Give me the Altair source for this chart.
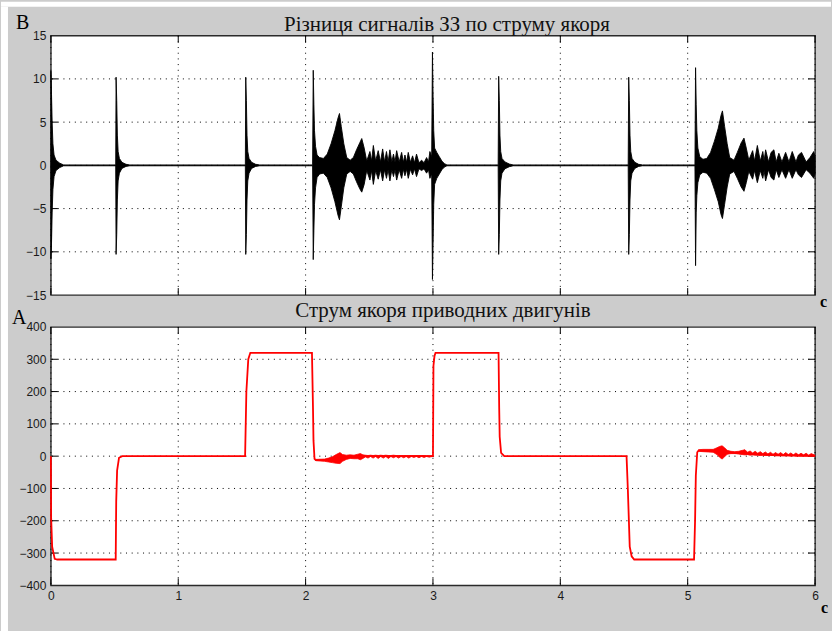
import altair as alt
import pandas as pd

# ---------------------------------------------------------------------------
# Axis ticks
# ---------------------------------------------------------------------------
t_ticks = [0, 1, 2, 3, 4, 5, 6]
diff_ticks = [-15, -10, -5, 0, 5, 10, 15]
cur_ticks = [-400, -300, -200, -100, 0, 100, 200, 300, 400]

# ---------------------------------------------------------------------------
# Difference of the fault-protection signals (V): envelope of the oscillation
# (time in s, upper bound, lower bound)
# ---------------------------------------------------------------------------
diff_t = [
    0.000, 0.005, 0.010, 0.016, 0.025, 0.040, 0.070, 0.100,
    0.509, 0.512, 0.517, 0.522, 0.528, 0.538, 0.558, 0.590, 0.620,
    1.527, 1.530, 1.535, 1.540, 1.546, 1.556, 1.576, 1.608, 1.640,
    2.055, 2.060, 2.065, 2.070, 2.078, 2.090, 2.110, 2.140, 2.170, 2.200,
    2.230, 2.255, 2.266, 2.280, 2.300, 2.323, 2.350, 2.375, 2.400, 2.425,
    2.441, 2.460, 2.480, 2.505, 2.518, 2.532, 2.550, 2.570, 2.588, 2.605,
    2.620, 2.635, 2.648, 2.662, 2.677, 2.690, 2.702, 2.715, 2.735, 2.754,
    2.768, 2.780, 2.793, 2.806, 2.823, 2.840, 2.855, 2.871, 2.890, 2.911,
    2.930, 2.950, 2.965, 2.976, 2.990,
    2.996, 3.001, 3.006, 3.013, 3.030, 3.050, 3.070, 3.090, 3.110,
    3.512, 3.516, 3.521, 3.526, 3.532, 3.542, 3.565, 3.600, 3.630,
    4.533, 4.537, 4.542, 4.547, 4.553, 4.563, 4.585, 4.615, 4.645,
    5.057, 5.062, 5.067, 5.072, 5.080, 5.095, 5.120, 5.150, 5.180, 5.210,
    5.240, 5.262, 5.273, 5.290, 5.310, 5.330, 5.364, 5.390, 5.420, 5.442,
    5.460, 5.480, 5.510, 5.525, 5.547, 5.570, 5.590, 5.600, 5.612, 5.635,
    5.655, 5.677, 5.695, 5.716, 5.740, 5.769, 5.795, 5.821, 5.850, 5.870,
    5.894, 5.930, 5.960, 5.990, 6.000,
]
diff_hi = [
    10.9, 8.2, 5.0, 2.5, 1.2, 0.6, 0.25, 0.05,
    0.05, 10.2, 7.5, 3.5, 1.6, 0.8, 0.35, 0.12, 0.05,
    0.05, 10.2, 7.5, 3.5, 1.6, 0.8, 0.35, 0.12, 0.05,
    0.05, 11.0, 7.0, 4.0, 2.2, 1.2, 0.9, 0.8, 1.3, 2.5,
    4.0, 5.5, 6.0, 4.5, 2.5, 0.9, 0.6, 0.9, 1.8, 2.6,
    3.1, 2.0, 0.5, 1.6, 0.5, 2.3, 0.5, 1.7, 0.4, 1.9,
    0.4, 1.6, 0.4, 1.8, 0.4, 1.3, 0.4, 1.7, 0.4, 1.5,
    0.35, 1.2, 0.35, 1.5, 0.35, 1.1, 0.3, 1.3, 0.3, 0.6,
    0.3, 0.9, 0.4, 1.6, 1.0,
    13.1, 8.0, 4.0, 2.0, 1.5, 1.0, 0.5, 0.2, 0.05,
    0.05, 10.3, 7.5, 3.5, 1.6, 0.8, 0.4, 0.15, 0.05,
    0.05, 10.2, 7.5, 3.5, 1.6, 0.8, 0.35, 0.12, 0.05,
    0.05, 11.3, 7.0, 4.0, 2.0, 1.0, 0.7, 0.8, 1.5, 2.8,
    4.3, 5.8, 6.3, 4.5, 2.5, 0.9, 0.6, 1.5, 2.6, 3.15,
    2.0, 0.6, 1.7, 0.5, 2.3, 0.5, 1.6, 0.5, 1.8, 0.4,
    1.5, 1.8, 0.4, 1.4, 0.4, 1.5, 0.4, 1.6, 0.4, 1.2,
    1.5, 0.4, 0.9, 1.6, 1.0,
]
diff_lo = [
    -10.8, -9.0, -5.5, -2.8, -1.3, -0.6, -0.25, -0.05,
    -0.05, -10.3, -8.0, -4.0, -1.8, -0.9, -0.35, -0.12, -0.05,
    -0.05, -10.3, -8.0, -4.0, -1.8, -0.9, -0.35, -0.12, -0.05,
    -0.05, -10.9, -7.5, -4.5, -2.6, -1.4, -1.0, -0.9, -1.4, -2.6,
    -4.2, -5.8, -6.3, -4.8, -2.6, -1.0, -0.7, -1.0, -1.9, -2.7,
    -3.1, -2.2, -0.6, -1.7, -0.6, -2.2, -0.6, -1.6, -0.5, -1.8,
    -0.5, -1.5, -0.5, -1.8, -0.5, -1.3, -0.5, -1.7, -0.5, -1.5,
    -0.45, -1.2, -0.45, -1.5, -0.45, -1.1, -0.4, -1.3, -0.4, -0.6,
    -0.4, -0.9, -0.5, -1.5, -1.0,
    -13.2, -9.0, -4.5, -2.2, -1.5, -1.0, -0.5, -0.2, -0.05,
    -0.05, -10.3, -8.0, -4.0, -1.8, -0.9, -0.4, -0.15, -0.05,
    -0.05, -10.3, -8.0, -4.0, -1.8, -0.9, -0.35, -0.12, -0.05,
    -0.05, -11.6, -5.5, -3.5, -2.0, -1.1, -0.8, -0.9, -1.5, -2.8,
    -4.2, -5.7, -6.15, -4.5, -2.5, -1.0, -0.7, -1.5, -2.5, -3.0,
    -2.0, -0.7, -1.6, -0.6, -2.0, -0.6, -1.5, -0.6, -1.8, -0.5,
    -1.4, -1.7, -0.5, -1.4, -0.5, -1.5, -0.5, -1.5, -0.5, -1.1,
    -1.4, -0.5, -0.9, -1.5, -1.0,
]

# ---------------------------------------------------------------------------
# Armature current of the drive motors (A)
# ---------------------------------------------------------------------------
cur_t = [
    0.000, 0.002, 0.010, 0.030, 0.050,
    0.509, 0.513, 0.520, 0.535, 0.560,
    1.525, 1.535, 1.550, 1.566,
    2.050, 2.058, 2.062, 2.070, 2.080, 2.150, 2.270, 2.350, 2.500, 2.995,
    3.000, 3.004, 3.012, 3.020,
    3.515, 3.520, 3.524, 3.535, 3.560,
    4.520, 4.530, 4.545, 4.560, 4.580,
    5.050, 5.058, 5.064, 5.075, 5.085, 5.200, 5.270, 5.350, 5.500, 5.700, 6.000,
]
cur_a = [
    0, -190, -280, -318, -320,
    -320, -140, -45, -5, 0,
    0, 200, 300, 320,
    320, 150, 48, -8, -12, -12, -6, -2, 0, 0,
    0, 280, 310, 320,
    320, 150, 60, 10, 0,
    0, -100, -280, -310, -320,
    -320, -200, -60, 12, 17, 18, 12, 10, 6, 3, 1,
]

# ripple band after the braking step (2.08 s ... 3.0 s)
band1_t = [2.080, 2.150, 2.180, 2.210, 2.240, 2.270, 2.290, 2.320, 2.350, 2.380,
           2.410, 2.430, 2.450, 2.470, 2.490, 2.510, 2.530, 2.550, 2.570, 2.590,
           2.610, 2.630, 2.650, 2.670, 2.690, 2.710, 2.730, 2.750, 2.770, 2.790,
           2.810, 2.830, 2.850, 2.870, 2.890, 2.910, 2.930, 2.950, 2.970, 2.995]
band1_hi = [-10, -9, -6, -2, 5, 11, 5, 3, 4, 3,
            6, 8, 4, 3, 2, 3, 2, 3, 2, 3,
            2, 3, 2, 2, 3, 2, 2, 2, 2, 2,
            2, 2, 2, 2, 2, 2, 2, 1, 1, 1]
band1_lo = [-14, -16, -18, -20, -22, -23, -16, -10, -7, -8,
            -8, -11, -7, -2, -6, -1, -6, -1, -7, -1,
            -6, -1, -7, -1, -5, -1, -6, -1, -5, -1,
            -6, -1, -4, -1, -5, -1, -4, -1, -3, -1]

# ripple band after the reverse braking step (5.085 s ... 6.0 s)
band2_t = [5.085, 5.120, 5.160, 5.200, 5.230, 5.250, 5.270, 5.290, 5.310, 5.340,
           5.370, 5.400, 5.430, 5.450, 5.470, 5.490, 5.510, 5.530, 5.550, 5.570,
           5.590, 5.610, 5.630, 5.650, 5.670, 5.690, 5.710, 5.730, 5.750, 5.770,
           5.790, 5.810, 5.830, 5.850, 5.870, 5.890, 5.910, 5.930, 5.950, 5.970, 6.000]
band2_hi = [20, 21, 21, 21, 26, 30, 32, 26, 18, 15,
            14, 15, 18, 20, 12, 16, 10, 15, 9, 14,
            8, 13, 7, 12, 6, 11, 6, 11, 5, 11,
            5, 10, 4, 10, 4, 9, 4, 9, 3, 8, 3]
band2_lo = [15, 14, 13, 12, 5, -3, -9, -2, 6, 8,
            8, 7, 5, 4, 5, 3, 4, 3, 3, 2,
            3, 2, 2, 2, 2, 1, 1, 1, 1, 1,
            1, 0, 1, 0, 0, 0, 0, 0, 0, 0, 0]

# ---------------------------------------------------------------------------
# Panel geometry and styling
# ---------------------------------------------------------------------------
W = 766
H1 = 260
H2 = 259
TICK = 7
GRID_DASH = [1, 4.7]
LABEL_FONT = "Liberation Sans"
SERIF = "Liberation Serif"
FRAME_GREY = "#cccccc"

x_scale = alt.Scale(domain=[0, 6], nice=False, zero=False)
y1_scale = alt.Scale(domain=[-15, 15], nice=False, zero=False)
y2_scale = alt.Scale(domain=[-400, 400], nice=False, zero=False)

y_axis_common = dict(grid=False, ticks=False, domain=False, labelPadding=5,
                     labelFont=LABEL_FONT, labelFontSize=12, labelColor="#1a1a1a",
                     title=None)
y1_axis = alt.Axis(values=diff_ticks, **y_axis_common)
y2_axis = alt.Axis(values=cur_ticks, **y_axis_common)
x2_axis = alt.Axis(values=t_ticks, grid=False, ticks=False, domain=False,
                   labelPadding=5, labelFlush=False, labelFont=LABEL_FONT,
                   labelFontSize=12, labelColor="#1a1a1a", title=None,
                   labelAngle=0)

one = pd.DataFrame({"k": [0]})


def panel_frame(y_ticks, y_scale, y_axis, x_axis, height):
    """Dotted grid and inward tick marks of a MATLAB-style axes box."""
    yv = pd.DataFrame({"v": y_ticks})
    xv = pd.DataFrame({"v": t_ticks})
    X = alt.X("v:Q", scale=x_scale, axis=x_axis)
    Y = alt.Y("v:Q", scale=y_scale, axis=y_axis)
    hgrid = alt.Chart(yv).mark_rule(color="black", strokeWidth=1,
                                    strokeDash=GRID_DASH).encode(y=Y)
    vgrid = alt.Chart(xv).mark_rule(color="black", strokeWidth=1,
                                    strokeDash=GRID_DASH).encode(x=X)
    tl = alt.Chart(yv).mark_rule(color="black", strokeWidth=1).encode(
        y=Y, x=alt.value(0), x2=alt.value(TICK))
    tr = alt.Chart(yv).mark_rule(color="black", strokeWidth=1).encode(
        y=Y, x=alt.value(W - TICK), x2=alt.value(W))
    tt = alt.Chart(xv).mark_rule(color="black", strokeWidth=1).encode(
        x=X, y=alt.value(0), y2=alt.value(TICK))
    tb = alt.Chart(xv).mark_rule(color="black", strokeWidth=1).encode(
        x=X, y=alt.value(height - TICK), y2=alt.value(height))
    return [hgrid, vgrid, tl, tr, tt, tb]


def label(text, x, y, size, weight="normal"):
    return alt.Chart(pd.DataFrame({"s": [text]})).mark_text(
        font=SERIF, fontSize=size, fontWeight=weight, color="black",
        align="left", baseline="alphabetic"
    ).encode(text="s:N", x=alt.value(x), y=alt.value(y))


def title(text, cx, y):
    return alt.Chart(pd.DataFrame({"s": [text]})).mark_text(
        font=SERIF, fontSize=21, color="#111111",
        align="center", baseline="alphabetic"
    ).encode(text="s:N", x=alt.value(cx), y=alt.value(y))


# white page margin around the grey figure (top and left edges)
margin_top = alt.Chart(one).mark_rect(color="white").encode(
    x=alt.value(-50), x2=alt.value(782), y=alt.value(-34), y2=alt.value(-29))
margin_left = alt.Chart(one).mark_rect(color="white").encode(
    x=alt.value(-50), x2=alt.value(-43), y=alt.value(-29), y2=alt.value(597))

# ---------------------------------------------------------------------------
# Upper panel: signal difference
# ---------------------------------------------------------------------------
diff_df = pd.DataFrame({"t": diff_t, "hi": diff_hi, "lo": diff_lo})
diff_area = alt.Chart(diff_df).mark_area(
    color="black", stroke="black", strokeWidth=0.9, interpolate="linear"
).encode(
    x=alt.X("t:Q", scale=x_scale, axis=None),
    y=alt.Y("hi:Q", scale=y1_scale, axis=y1_axis),
    y2=alt.Y2("lo:Q"),
)

top = alt.layer(
    margin_top, margin_left,
    *panel_frame(diff_ticks[1:-1], y1_scale, y1_axis, None, H1),
    diff_area,
    title("Різниця сигналів ЗЗ по струму якоря", 397, -5),
    label("B", -35, -7, 20),
    label("c", 771, 272, 16, "bold"),
).properties(width=W, height=H1)

# ---------------------------------------------------------------------------
# Lower panel: armature current
# ---------------------------------------------------------------------------
cur_df = pd.DataFrame({"t": cur_t, "a": cur_a})
band_df = pd.concat([
    pd.DataFrame({"t": band1_t, "hi": band1_hi, "lo": band1_lo, "seg": 1}),
    pd.DataFrame({"t": band2_t, "hi": band2_hi, "lo": band2_lo, "seg": 2}),
])

cur_bands = alt.Chart(band_df).mark_area(
    color="#ff0000", stroke="#ff0000", strokeWidth=0.8, interpolate="linear"
).encode(
    x=alt.X("t:Q", scale=x_scale, axis=x2_axis),
    y=alt.Y("hi:Q", scale=y2_scale, axis=y2_axis),
    y2=alt.Y2("lo:Q"),
    detail="seg:N",
)
cur_line = alt.Chart(cur_df).mark_line(
    color="#ff0000", strokeWidth=1.8, interpolate="linear"
).encode(
    x=alt.X("t:Q", scale=x_scale, axis=x2_axis),
    y=alt.Y("a:Q", scale=y2_scale, axis=y2_axis),
)

bottom = alt.layer(
    *panel_frame(cur_ticks[1:-1], y2_scale, y2_axis, x2_axis, H2),
    cur_bands,
    cur_line,
    title("Струм якоря приводних двигунів", 393, -10),
    label("A", -39, -3, 20),
    label("c", 772, 287, 16, "bold"),
).properties(width=W, height=H2)

chart = alt.vconcat(top, bottom, spacing=32, bounds="flush").properties(
    padding=0, background=FRAME_GREY
).configure_view(fill="white", stroke="#2a2a2a", strokeWidth=1.4)

chart.save("out.html", embed_options={"renderer": "svg", "actions": False})
